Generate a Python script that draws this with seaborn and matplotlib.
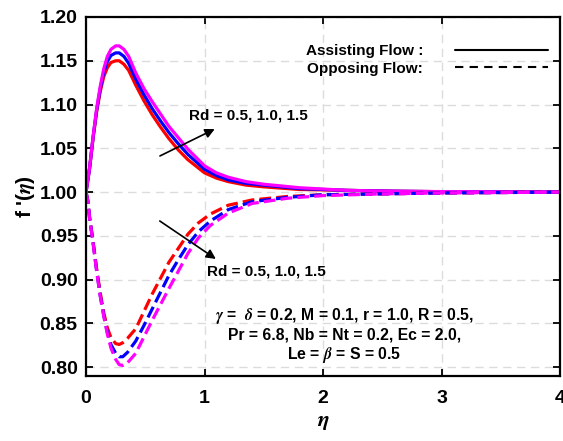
import pandas as pd
import matplotlib
matplotlib.use('Agg')
import matplotlib.pyplot as plt
import seaborn as sns
from matplotlib.lines import Line2D

# values
rd_labels = ['0.5', '1.0', '1.5']
colors = ['#ff0000', '#0000ff', '#ff00ff']

eta_assist = [0, 0.03, 0.06, 0.09, 0.12, 0.15, 0.18, 0.21, 0.25, 0.28, 0.32, 0.36,
              0.42, 0.49, 0.56, 0.63, 0.70, 0.78, 0.86, 1.0, 1.1, 1.2, 1.35, 1.5,
              1.8, 2.2, 2.6, 3.0, 3.5, 4.0]
assist_rd05 = [1.000, 1.027, 1.062, 1.092, 1.115, 1.132, 1.142, 1.148, 1.150, 1.150,
               1.146, 1.139, 1.122, 1.104, 1.088, 1.074, 1.061, 1.048, 1.037, 1.022,
               1.016, 1.012, 1.008, 1.006, 1.003, 1.002, 1.001, 1.0005, 1.0002, 1.000]
assist_rd10 = [1.000, 1.027, 1.063, 1.094, 1.118, 1.137, 1.149, 1.156, 1.159, 1.159,
               1.155, 1.147, 1.129, 1.111, 1.095, 1.081, 1.068, 1.055, 1.043, 1.026,
               1.019, 1.014, 1.010, 1.008, 1.004, 1.002, 1.001, 1.0005, 1.0002, 1.000]
assist_rd15 = [1.000, 1.028, 1.064, 1.096, 1.121, 1.141, 1.155, 1.163, 1.167, 1.167,
               1.163, 1.155, 1.136, 1.118, 1.103, 1.089, 1.075, 1.062, 1.049, 1.030,
               1.022, 1.017, 1.012, 1.009, 1.005, 1.002, 1.001, 1.0006, 1.0002, 1.000]

eta_oppose = [0, 0.015, 0.03, 0.06, 0.09, 0.12, 0.15, 0.18, 0.21, 0.25, 0.28, 0.31,
              0.35, 0.42, 0.49, 0.56, 0.63, 0.70, 0.78, 0.86, 0.95, 1.05, 1.2, 1.4,
              1.7, 2.0, 2.5, 3.0, 3.5, 4.0]
oppose_rd05 = [1.000, 0.990, 0.971, 0.943, 0.912, 0.885, 0.862, 0.845, 0.834, 0.827,
               0.826, 0.828, 0.833, 0.844, 0.864, 0.884, 0.902, 0.920, 0.936, 0.952,
               0.965, 0.975, 0.985, 0.991, 0.995, 0.997, 0.998, 0.999, 0.9995, 1.000]
oppose_rd10 = [1.000, 0.990, 0.971, 0.942, 0.910, 0.882, 0.859, 0.840, 0.826, 0.816,
               0.812, 0.812, 0.817, 0.830, 0.848, 0.867, 0.886, 0.905, 0.923, 0.940,
               0.955, 0.967, 0.980, 0.989, 0.994, 0.997, 0.998, 0.999, 0.9995, 1.000]
oppose_rd15 = [1.000, 0.990, 0.970, 0.941, 0.909, 0.881, 0.858, 0.838, 0.822, 0.809,
               0.803, 0.802, 0.805, 0.816, 0.835, 0.854, 0.872, 0.890, 0.910, 0.930,
               0.948, 0.962, 0.976, 0.987, 0.993, 0.996, 0.998, 0.999, 0.9995, 1.000]

x_ticks = [0, 1, 2, 3, 4]
y_ticks = [0.80, 0.85, 0.90, 0.95, 1.00, 1.05, 1.10, 1.15, 1.20]

sns.set_style('ticks')
plt.rcParams['font.family'] = ['Liberation Sans', 'DejaVu Sans']
plt.rcParams['font.weight'] = 'bold'
plt.rcParams['mathtext.fontset'] = 'stix'
plt.rcParams['text.color'] = 'black'
plt.rcParams['axes.labelcolor'] = 'black'
plt.rcParams['axes.edgecolor'] = 'black'
plt.rcParams['xtick.color'] = 'black'
plt.rcParams['ytick.color'] = 'black'

fig = plt.figure(figsize=(5.63, 4.41), dpi=100)
ax = fig.add_axes([0.1528, 0.1474, 0.8419, 0.8141])

assist = [assist_rd05, assist_rd10, assist_rd15]
oppose = [oppose_rd05, oppose_rd10, oppose_rd15]
for vals, c in zip(assist, colors):
    sns.lineplot(x=eta_assist, y=vals, color=c, lw=2.3, ax=ax)
for vals, c in zip(oppose, colors):
    sns.lineplot(x=eta_oppose, y=vals, color=c, lw=2.3, ls='--', ax=ax)

ax.set_xlim(0, 4)
ax.set_ylim(0.79, 1.20)
ax.set_xticks(x_ticks)
ax.set_yticks(y_ticks)
ax.set_xticklabels([str(t) for t in x_ticks])
ax.set_yticklabels(['%.2f' % t for t in y_ticks])
ax.grid(True, ls=(0, (6, 4)), color='#dcdcdc', lw=1)
ax.tick_params(direction='in', length=5, width=1.3, top=True, right=True,
               labelsize=14, pad=6)
ax.tick_params(axis='x', pad=10)
for s in ax.spines.values():
    s.set_linewidth(1.6)

ax.set_xlabel(r'$\eta$', fontsize=16, labelpad=3)
ax.set_ylabel(r"f '($\eta$)", fontsize=15, fontweight='bold', labelpad=2)

# arrows and Rd annotations
ax.annotate('', xy=(1.107, 1.0734), xytext=(0.603, 1.0399),
            arrowprops=dict(arrowstyle='-|>', color='k', lw=1.2, mutation_scale=14))
ax.annotate('', xy=(1.115, 0.9219), xytext=(0.603, 0.9688),
            arrowprops=dict(arrowstyle='-|>', color='k', lw=1.2, mutation_scale=14))
ax.text(1.37, 1.088, 'Rd = ' + ', '.join(rd_labels), fontsize=11, fontweight='bold',
        ha='center', va='center')
ax.text(1.52, 0.909, 'Rd = ' + ', '.join(rd_labels), fontsize=11, fontweight='bold',
        ha='center', va='center')

ax.text(2.18, 0.8366,
        r'$\gamma$ =  $\delta$ = 0.2, M = 0.1, r = 1.0, R = 0.5,' + '\n'
        + 'Pr = 6.8, Nb = Nt = 0.2, Ec = 2.0,' + '\n'
        + r'Le = $\beta$ = S = 0.5',
        fontsize=11.3, fontweight='bold', ha='center', va='center',
        multialignment='center', linespacing=1.15)

handles = [Line2D([], [], color='k', lw=1.5),
           Line2D([], [], color='k', lw=1.5, ls=(0, (4, 3)))]
leg = ax.legend(handles, ['Assisting Flow :', 'Opposing Flow:'], markerfirst=False,
                frameon=False, loc='upper right', bbox_to_anchor=(0.975, 0.925),
                borderaxespad=0, borderpad=0, handlelength=6.1, handletextpad=2.1,
                labelspacing=0.25, prop={'size': 11, 'weight': 'bold'})

fig.savefig('out.png', dpi=100)
